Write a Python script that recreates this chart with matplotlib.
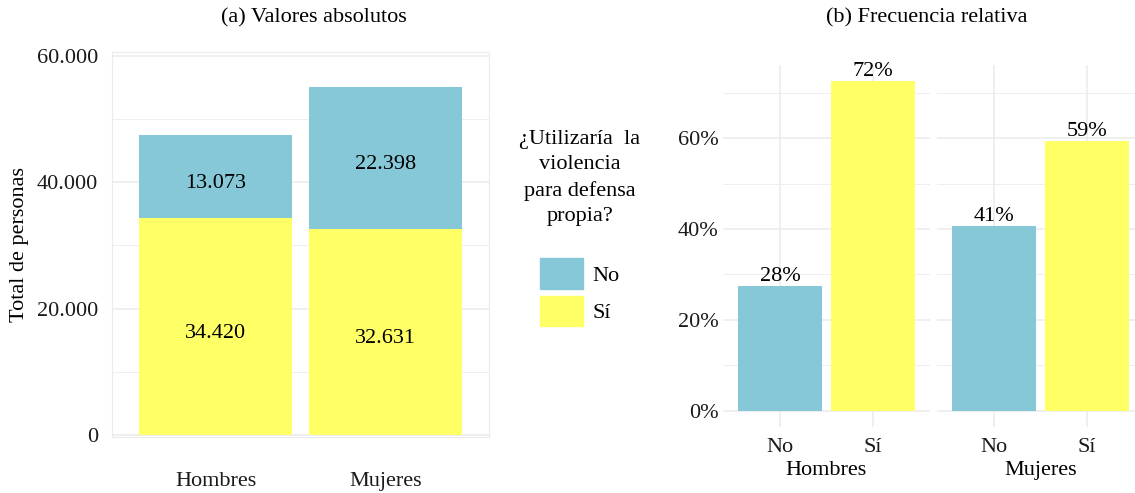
import numpy as np
import matplotlib.pyplot as plt
from matplotlib.patches import Patch
from matplotlib.ticker import FuncFormatter, MultipleLocator
from matplotlib.transforms import ScaledTranslation

plt.rcParams['font.family'] = ['Liberation Serif', 'DejaVu Serif']
plt.rcParams['font.size'] = 16

grupos = ['Hombres', 'Mujeres']
respuestas = ['No', 'Sí']
no_vals = [13073, 22398]
si_vals = [34420, 32631]

col_no = '#86c8d7'
col_si = '#ffff66'
grid_col = '#ebebeb'

def miles(v, pos=None):
    return f"{int(v):,}".replace(',', '.')

fig = plt.figure(figsize=(11.35, 4.93), dpi=100)

# (a) valores absolutos, barras apiladas
ax = fig.add_axes([112/1135, 1-437/493, 377/1135, 385/493])
x = np.arange(1, len(grupos)+1)
ax.bar(x, si_vals, width=0.9, color=col_si, zorder=2)
ax.bar(x, no_vals, bottom=si_vals, width=0.9, color=col_no, zorder=2)
for i in range(len(grupos)):
    ax.annotate(miles(si_vals[i]), (x[i], si_vals[i]/2), xytext=(0, -5),
                textcoords='offset points', ha='center', va='center')
    ax.annotate(miles(no_vals[i]), (x[i], si_vals[i] + no_vals[i]/2), xytext=(0, -5),
                textcoords='offset points', ha='center', va='center')
ax.set_xlim(0.39, 2.61)
ax.set_ylim(-300, 60600)
ax.yaxis.set_major_locator(MultipleLocator(20000))
ax.yaxis.set_minor_locator(MultipleLocator(10000))
ax.yaxis.set_major_formatter(FuncFormatter(miles))
ax.set_xticks(x, grupos)
desplaza = ScaledTranslation(0.2, 0, fig.dpi_scale_trans)
for lab in ax.get_xticklabels():
    lab.set_transform(lab.get_transform() + desplaza)
ax.grid(axis='y', which='major', color=grid_col, lw=1.1, zorder=0)
ax.grid(axis='y', which='minor', color=grid_col, lw=0.6, zorder=0)
ax.tick_params(axis='both', which='both', length=0, colors='#1a1a1a')
ax.tick_params(axis='x', pad=25)
ax.tick_params(axis='y', pad=10)
for s in ax.spines.values():
    s.set_color('#ebebeb')
ax.set_ylabel('Total de personas', labelpad=6)
fig.text(314/1135, 1-18/493, '(a) Valores absolutos', ha='center', va='center')

# leyenda
handles = [Patch(color=col_no), Patch(color=col_si)]
leg = fig.legend(handles, respuestas, title='¿Utilizaría  la\nviolencia\npara defensa\npropia?\n',
                 loc='upper center', bbox_to_anchor=(580/1135, 1-110/493), frameon=False,
                 handlelength=1.9, handleheight=1.75, labelspacing=0.3, handletextpad=0.45)
leg.get_title().set_multialignment('center')
leg.get_title().set_linespacing(1.45)

# (b) frecuencia relativa por grupo
totales = [n + s for n, s in zip(no_vals, si_vals)]
izq = [723, 937]
for k, g in enumerate(grupos):
    axb = fig.add_axes([izq[k]/1135, 1-427/493, 207/1135, 362/493])
    pct = [no_vals[k]/totales[k]*100, si_vals[k]/totales[k]*100]
    bars = axb.bar(x, pct, width=0.9, color=[col_no, col_si], zorder=2)
    axb.bar_label(bars, labels=[f"{round(p)}%" for p in pct], padding=0)
    axb.set_xlim(0.39, 2.61)
    axb.set_ylim(-3.6, 76.1)
    axb.yaxis.set_major_locator(MultipleLocator(20))
    axb.yaxis.set_minor_locator(MultipleLocator(10))
    axb.yaxis.set_major_formatter(FuncFormatter(lambda v, p: f"{int(v)}%"))
    axb.set_xticks(x, respuestas)
    axb.grid(which='major', color=grid_col, lw=1.1, zorder=0)
    axb.grid(axis='y', which='minor', color=grid_col, lw=0.6, zorder=0)
    axb.tick_params(axis='both', which='both', length=0, colors='#1a1a1a')
    axb.tick_params(axis='x', pad=8)
    axb.tick_params(axis='y', pad=3)
    for s in axb.spines.values():
        s.set_visible(False)
    axb.set_xlabel(g, labelpad=3)
    if k > 0:
        axb.tick_params(axis='y', labelleft=False)

fig.text(927/1135, 1-18/493, '(b) Frecuencia relativa', ha='center', va='center')

fig.savefig('out.png', dpi=100)
